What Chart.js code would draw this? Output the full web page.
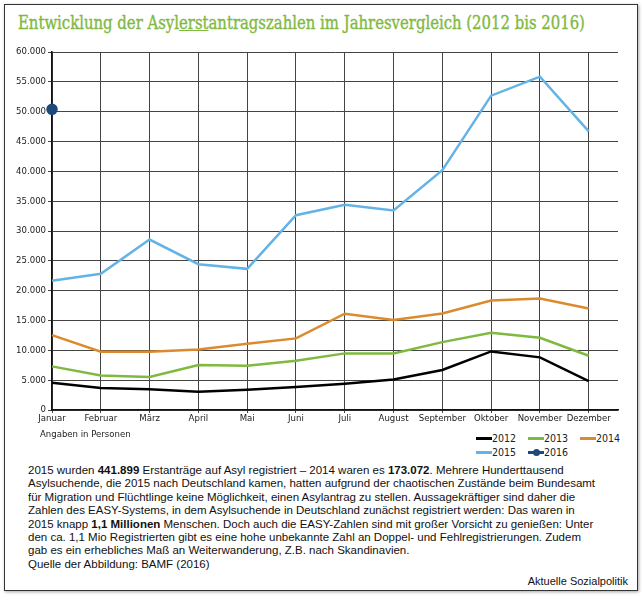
<!DOCTYPE html>
<html lang="de">
<head>
<meta charset="utf-8">
<title>Asylerstantragszahlen 2012 bis 2016</title>
<script src="https://cdn.jsdelivr.net/npm/chart.js@4"></script>
<style>
    html, body { margin: 0; padding: 0; background: #fff; }
    body { position: relative; width: 642px; height: 600px; overflow: hidden; font-family: "Liberation Sans", Arial, sans-serif; }
    .frame { position: absolute; left: 4px; top: 4px; width: 632px; height: 585px; border: 1px solid #333; box-shadow: 1px 1px 3px rgba(0,0,0,0.35); }
    #title { position: absolute; left: 18px; top: 12px; white-space: nowrap; font-family: "DejaVu Serif Condensed", "DejaVu Serif", serif; font-size: 19px; line-height: 20px; color: #7fb93f; -webkit-text-stroke: 0.35px #7fb93f; transform-origin: 0 0; }
    #title u { text-decoration-color: #7fb93f; text-decoration-thickness: 1px; }
    #chartBox { position: absolute; left: 0; top: 40px; width: 642px; height: 390px; }
    .note { position: absolute; left: 40px; top: 428px; font-family: "DejaVu Sans Condensed", sans-serif; font-size: 9.5px; color: #222; }
    .legend-item { position: absolute; font-family: "DejaVu Sans Condensed", sans-serif; font-size: 10.5px; line-height: 12px; color: #222; white-space: nowrap; }
    .legend-item .swatch { display: inline-block; position: relative; width: 16px; height: 3px; vertical-align: middle; margin-top: -2px; }
    .legend-item .dot { position: absolute; left: 5px; top: -2px; width: 7px; height: 7px; border-radius: 50%; }
    #text { position: absolute; left: 28px; top: 464px; font-size: 11.5px; line-height: 13.4px; color: #111; white-space: nowrap; }
    #source { position: absolute; right: 14px; top: 575px; font-size: 11px; color: #111; }
</style>
</head>
<body>
<div class="frame"></div>
<div id="title">Entwicklung der Asyl<u>erst</u>antragszahlen im Jahresvergleich (2012 bis 2016)</div>
<div id="chartBox"><canvas id="asylChart" width="642" height="390"></canvas></div>
<div class="note">Angaben in Personen</div>
<div id="legend"></div>
<div id="text">
    2015 wurden <b>441.899</b> Erstanträge auf Asyl registriert – 2014 waren es <b>173.072</b>. Mehrere Hunderttausend<br>
    Asylsuchende, die 2015 nach Deutschland kamen, hatten aufgrund der chaotischen Zustände beim Bundesamt<br>
    für Migration und Flüchtlinge keine Möglichkeit, einen Asylantrag zu stellen. Aussagekräftiger sind daher die<br>
    Zahlen des EASY-Systems, in dem Asylsuchende in Deutschland zunächst registriert werden: Das waren in<br>
    2015 knapp <b>1,1 Millionen</b> Menschen. Doch auch die EASY-Zahlen sind mit großer Vorsicht zu genießen: Unter<br>
    den ca. 1,1 Mio Registrierten gibt es eine hohe unbekannte Zahl an Doppel- und Fehlregistrierungen. Zudem<br>
    gab es ein erhebliches Maß an Weiterwanderung, Z.B. nach Skandinavien.<br>
    Quelle der Abbildung: BAMF (2016)
</div>
<div id="source">Aktuelle Sozialpolitik</div>

<script>
const months = ["Januar", "Februar", "März", "April", "Mai", "Juni", "Juli", "August", "September", "Oktober", "November", "Dezember"];

const asyl2012 = [4580, 3680, 3460, 3070, 3400, 3850, 4410, 5130, 6700, 9820, 8820, 4860];
const asyl2013 = [7310, 5800, 5520, 7530, 7420, 8260, 9490, 9490, 11380, 12950, 12110, 9100];
const asyl2014 = [12560, 9770, 9770, 10160, 11100, 12000, 16130, 15070, 16180, 18360, 18690, 17020];
const asyl2015 = [21650, 22820, 28570, 24440, 23660, 32650, 34380, 33430, 40180, 52680, 55860, 46710];
const asyl2016 = [50390];

const yearLabels = ["2012", "2013", "2014", "2015", "2016"];
const yearColors = ["#000000", "#7fb93f", "#dc8a2e", "#64b3e6", "#1e4a7a"];

const yMax = 60000;
const yStep = 5000;

// title is a condensed face in the original, squeeze ours to the same width
const title = document.getElementById("title");
title.style.transform = `scaleX(${567 / title.scrollWidth})`;

function formatThousands(value) {
    if (value === 0) return "0";
    return (value / 1000) + ".000";
}

const seriesData = [asyl2012, asyl2013, asyl2014, asyl2015, asyl2016];

const datasets = seriesData.map((values, i) => {
    const isPointOnly = yearLabels[i] === "2016";
    return {
        label: yearLabels[i],
        data: values,
        borderColor: yearColors[i],
        backgroundColor: yearColors[i],
        borderWidth: 2.5,
        fill: false,
        tension: 0,
        clip: false,
        showLine: !isPointOnly,
        pointRadius: isPointOnly ? 4.5 : 0,
        pointHoverRadius: isPointOnly ? 4.5 : 0
    };
});

Chart.defaults.font.family = "'DejaVu Sans Condensed', sans-serif";
Chart.defaults.font.size = 9.5;
Chart.defaults.color = "#222";

const ctx = document.getElementById("asylChart").getContext("2d");
const chart = new Chart(ctx, {
    type: "line",
    data: {
        labels: months.map((m, i) => i),
        datasets: datasets
    },
    options: {
        responsive: false,
        animation: false,
        layout: {
            padding: { top: 12, right: 24, left: 0, bottom: 0 }
        },
        plugins: {
            legend: { display: false },
            tooltip: { enabled: false }
        },
        scales: {
            x: {
                type: "linear",
                min: 0,
                max: 11.6,
                afterFit: scale => { scale.height = 20; },
                grid: { color: "#444", lineWidth: 1, tickLength: 3 },
                border: { color: "#111", width: 1.5 },
                ticks: {
                    stepSize: 1,
                    includeBounds: false,
                    autoSkip: false,
                    maxRotation: 0,
                    padding: 0,
                    callback: value => Number.isInteger(value) ? months[value] : ""
                }
            },
            y: {
                min: 0,
                max: yMax,
                afterFit: scale => { scale.width = 52; },
                grid: { color: "#444", lineWidth: 1, tickLength: 4 },
                border: { color: "#111", width: 1.5 },
                ticks: {
                    stepSize: yStep,
                    padding: 2,
                    callback: value => formatThousands(value)
                }
            }
        }
    }
});

// legend below the plot, two rows like the original
const legend = document.getElementById("legend");
const legendPos = [[476, 432], [528, 432], [580, 432], [476, 446], [528, 446]];
yearLabels.forEach((label, i) => {
    const item = document.createElement("div");
    item.className = "legend-item";
    item.style.left = legendPos[i][0] + "px";
    item.style.top = legendPos[i][1] + "px";
    const dot = label === "2016" ? `<span class="dot" style="background:${yearColors[i]}"></span>` : "";
    item.innerHTML = `<span class="swatch" style="background:${yearColors[i]}">${dot}</span>${label}`;
    legend.appendChild(item);
});
</script>
</body>
</html>
